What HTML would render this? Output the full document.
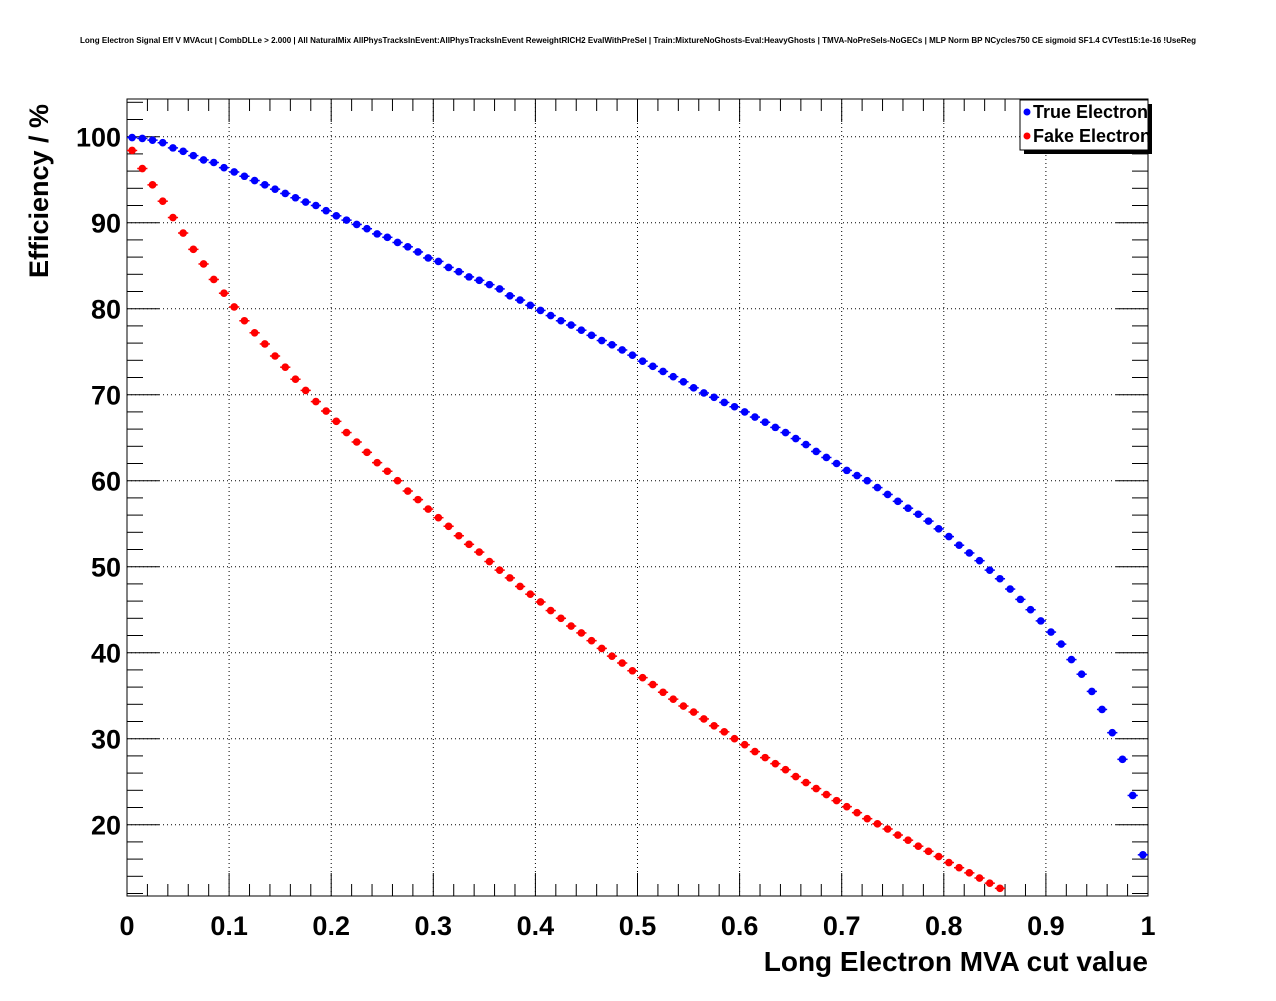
<!DOCTYPE html>
<html><head><meta charset="utf-8"><style>
html,body{margin:0;padding:0;background:#fff;}
svg text{font-family:"Liberation Sans",sans-serif;font-weight:bold;}
</style></head><body>
<svg id="c" width="1276" height="996" viewBox="0 0 1276 996" xmlns="http://www.w3.org/2000/svg">
<rect width="1276" height="996" fill="#fff"/>
<text x="638" y="43" font-size="8" text-anchor="middle" textLength="1116" lengthAdjust="spacingAndGlyphs">Long Electron Signal Eff V MVAcut | CombDLLe &gt; 2.000 | All NaturalMix AllPhysTracksInEvent:AllPhysTracksInEvent ReweightRICH2 EvalWithPreSel | Train:MixtureNoGhosts-Eval:HeavyGhosts | TMVA-NoPreSels-NoGECs | MLP Norm BP NCycles750 CE sigmoid SF1.4 CVTest15:1e-16 !UseReg</text>
<g id="grid"></g>
<g id="axes"></g>
<g id="series"></g>
<text x="1148" y="971" font-size="28" text-anchor="end">Long Electron MVA cut value</text>
<text transform="translate(48,278) rotate(-90)" font-size="27">Efficiency / %</text>
<g>
<rect x="1024" y="104" width="128" height="50" fill="#000"/>
<rect x="1020" y="100" width="128" height="50" fill="#fff" stroke="#000" stroke-width="1"/>
<circle cx="1027" cy="112" r="3.5" fill="#0000ff"/>
<text x="1033" y="118" font-size="18">True Electron</text>
<circle cx="1027" cy="136" r="3.5" fill="#ff0000"/>
<text x="1033" y="142" font-size="18">Fake Electron</text>
</g>
</svg>
<script>
const xTicks = [0,0.1,0.2,0.3,0.4,0.5,0.6,0.7,0.8,0.9,1];
const xTickLabels = ["0","0.1","0.2","0.3","0.4","0.5","0.6","0.7","0.8","0.9","1"];
const yTicks = [20,30,40,50,60,70,80,90,100];
const yTickLabels = ["20","30","40","50","60","70","80","90","100"];
const trueElectron = [99.9,99.8,99.6,99.3,98.7,98.3,97.8,97.3,97.0,96.4,95.9,95.4,94.9,94.4,93.9,93.4,92.9,92.4,92.0,91.4,90.8,90.3,89.8,89.3,88.7,88.3,87.7,87.2,86.6,85.9,85.5,84.8,84.3,83.7,83.3,82.8,82.3,81.5,81.0,80.4,79.8,79.2,78.6,78.1,77.5,76.9,76.3,75.8,75.2,74.6,73.9,73.3,72.7,72.1,71.5,70.8,70.2,69.7,69.1,68.6,68.0,67.4,66.8,66.2,65.6,64.9,64.2,63.4,62.7,62.0,61.2,60.6,60.0,59.2,58.4,57.6,56.8,56.1,55.3,54.4,53.5,52.5,51.6,50.7,49.6,48.6,47.4,46.2,45.0,43.7,42.4,41.0,39.2,37.5,35.5,33.4,30.7,27.6,23.4,16.5];
const fakeElectron = [98.4,96.3,94.4,92.5,90.6,88.8,86.9,85.2,83.4,81.8,80.2,78.6,77.2,75.9,74.5,73.2,71.8,70.5,69.2,68.1,66.9,65.6,64.5,63.3,62.1,61.1,60.0,58.8,57.8,56.7,55.7,54.7,53.6,52.6,51.7,50.6,49.6,48.7,47.7,46.8,45.9,44.9,44.0,43.1,42.3,41.4,40.5,39.6,38.8,37.9,37.1,36.3,35.4,34.6,33.8,33.1,32.3,31.5,30.8,30.0,29.3,28.5,27.8,27.1,26.4,25.6,24.9,24.2,23.5,22.8,22.1,21.4,20.7,20.1,19.5,18.8,18.2,17.5,16.9,16.3,15.6,15.0,14.4,13.8,13.2,12.6];
const X0=127,X1=1148,Y0=99,Y1=896;
const yAt100=136.7, pxPerUnit=8.6;
const xs=v=>X0+(X1-X0)*v;
const ys=v=>yAt100+(100-v)*pxPerUnit;
const yMin=100-(Y1-yAt100)/pxPerUnit, yMax=100+(yAt100-Y0)/pxPerUnit;
const NS='http://www.w3.org/2000/svg';
function mk(tag,attrs,parent){const e=document.createElementNS(NS,tag);for(const k in attrs)e.setAttribute(k,attrs[k]);parent.appendChild(e);return e;}
const grid=document.getElementById('grid'),axes=document.getElementById('axes'),series=document.getElementById('series');
xTicks.forEach((t,i)=>{
  if(i>0&&i<xTicks.length-1){const g=mk('line',{x1:xs(t),x2:xs(t),y1:Y0,y2:Y1,stroke:'#000','stroke-width':1,'stroke-dasharray':'1,3'},grid);
  
  }
  const tx=mk('text',{x:xs(t),y:935,'font-size':27,'text-anchor':'middle'},axes);tx.textContent=xTickLabels[i];
  
  
});
yTicks.forEach((t,i)=>{
  const g=mk('line',{x1:X0,x2:X1,y1:ys(t),y2:ys(t),stroke:'#000','stroke-width':1,'stroke-dasharray':'1,3'},grid);
  
  
  const tx=mk('text',{x:121,y:ys(t)+10,'font-size':27,'text-anchor':'end'},axes);tx.textContent=yTickLabels[i];
  
  
});
for(let k=0;k<=50;k++){const v=k*0.02,major=k%5===0,L=major?23:12;
  mk('line',{x1:xs(v),x2:xs(v),y1:Y1,y2:Y1-L,stroke:'#000','stroke-width':1},axes);
  mk('line',{x1:xs(v),x2:xs(v),y1:Y0,y2:Y0+L,stroke:'#000','stroke-width':1},axes);}
for(let v=Math.ceil(yMin/2)*2;v<=yMax;v+=2){const major=v%10===0,L=major?32:16;
  mk('line',{x1:X0,x2:X0+L,y1:ys(v),y2:ys(v),stroke:'#000','stroke-width':1},axes);
  mk('line',{x1:X1,x2:X1-L,y1:ys(v),y2:ys(v),stroke:'#000','stroke-width':1},axes);}
const fr=mk('rect',{x:X0,y:Y0,width:X1-X0,height:Y1-Y0,fill:'none',stroke:'#000','stroke-width':1},axes);


function draw(vals,color,name){
  const n=100,w=1/n;
  vals.forEach((v,i)=>{
    if(v<yMin||v>yMax)return;
    const cx=xs((i+0.5)*w),cy=ys(v);
    mk('line',{x1:xs(i*w),x2:xs((i+1)*w),y1:cy,y2:cy,stroke:color,'stroke-width':1.5},series);
    const c=mk('circle',{cx:cx,cy:cy,r:3.8,fill:color},series);
    
    
  });
}
draw(trueElectron,'#0000ff','true-electron-point');
draw(fakeElectron,'#ff0000','fake-electron-point');
</script>
</body></html>
